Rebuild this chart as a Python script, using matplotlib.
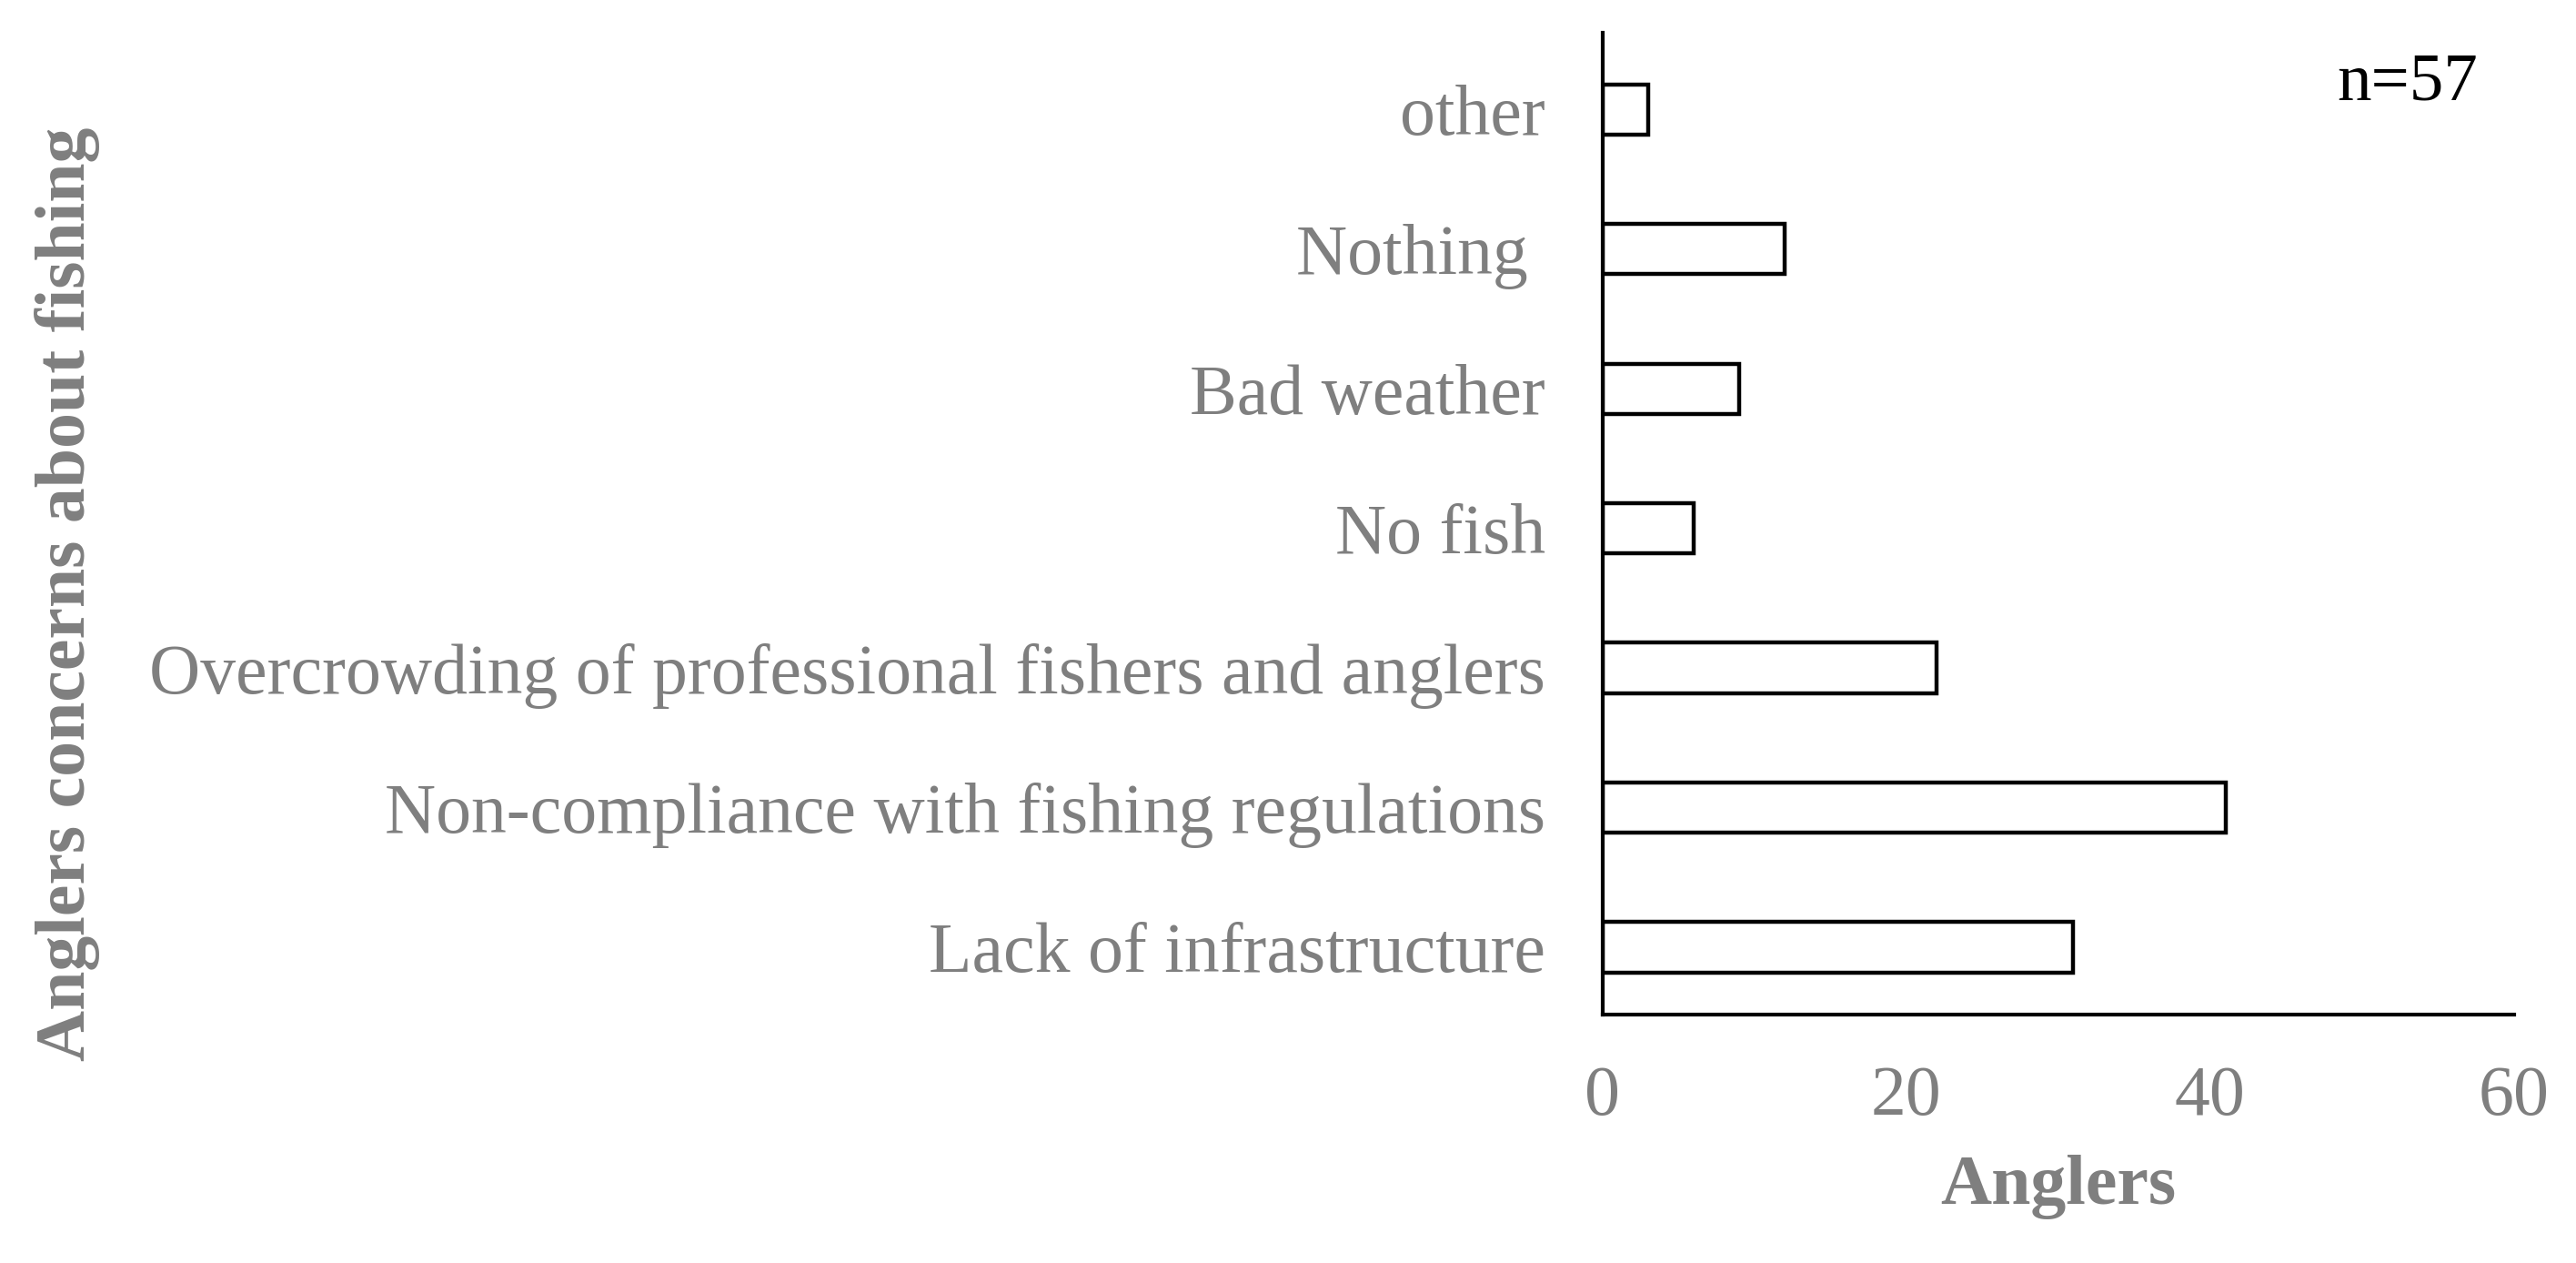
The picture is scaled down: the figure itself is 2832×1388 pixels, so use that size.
import matplotlib.pyplot as plt

plt.rcParams['font.family'] = ['Liberation Serif', 'DejaVu Serif']

# concerns, bottom to top
concerns = ["Lack of infrastructure",
            "Non-compliance with fishing regulations",
            "Overcrowding of professional fishers and anglers",
            "No fish",
            "Bad weather",
            "Nothing ",
            "other"]
anglers = [31, 41, 22, 6, 9, 12, 3]
x_ticks = [0, 20, 40, 60]

grey = "#7f7f7f"

fig = plt.figure(figsize=(28.32, 13.88), dpi=100)
ax = fig.add_axes([0.622, 0.197, 0.354, 0.777])

ax.barh(range(len(concerns)), anglers, height=0.36, color="white",
        edgecolor="black", linewidth=3.2)

ax.set_xlim(0, 60)
ax.set_ylim(-0.48, 6.55)
ax.set_xticks(x_ticks)
ax.set_yticks(range(len(concerns)))
ax.set_yticklabels(concerns)
ax.tick_params(length=0, labelsize=56, labelcolor=grey, pad=45)
ax.tick_params(axis='x', pad=40)

for s in ["top", "right"]:
    ax.spines[s].set_visible(False)
for s in ["left", "bottom"]:
    ax.spines[s].set_linewidth(3.0)

ax.set_xlabel("Anglers", fontsize=56, fontweight="bold", color=grey, labelpad=20)
fig.text(0.026, 0.53, "Anglers concerns about fishing", rotation=90,
         fontsize=56, fontweight="bold", color=grey, ha="center", va="center")
ax.text(0.96, 0.98, "n=57", transform=ax.transAxes, fontsize=54,
        ha="right", va="top", color="black")

fig.savefig("out.png", dpi=100)
